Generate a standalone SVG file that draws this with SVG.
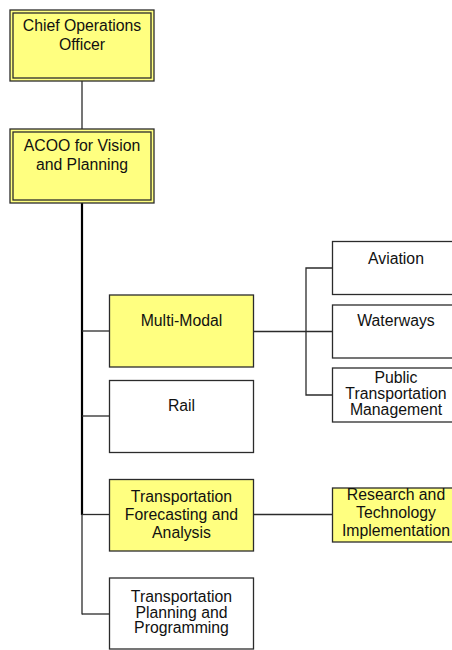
<svg xmlns="http://www.w3.org/2000/svg" width="452" height="650" viewBox="0 0 452 650">
  <style>
    .box { stroke: #2b2b2b; stroke-width: 1.3; }
    .hl { fill: #ffff80; }
    .plain { fill: #ffffff; }
    .inner { fill: none; stroke: #2b2b2b; stroke-width: 1.3; }
    .lbl { font-family: "Liberation Sans", Arial, sans-serif; font-size: 15.8px; fill: #111; text-anchor: middle; }
    .wire { stroke: #2b2b2b; stroke-width: 1.3; fill: none; }
    .trunk { stroke: #000; stroke-width: 2.2; fill: none; }
  </style>
  <rect width="452" height="650" fill="#ffffff"/>

  <g id="connectors">
    <line class="wire" x1="82" y1="81" x2="82" y2="129"/>
    <line class="trunk" x1="82" y1="203" x2="82" y2="515"/>
    <line class="wire" x1="82" y1="514" x2="82" y2="614.5"/>
    <line class="wire" x1="82" y1="331" x2="109.5" y2="331"/>
    <line class="wire" x1="82" y1="416" x2="109.5" y2="416"/>
    <line class="wire" x1="82" y1="514.5" x2="109.5" y2="514.5"/>
    <line class="wire" x1="82" y1="614" x2="109.5" y2="614"/>
    <line class="wire" x1="253.5" y1="331.5" x2="332.5" y2="331.5"/>
    <polyline class="wire" points="332.5,268 306,268 306,395 332.5,395"/>
    <line class="wire" x1="253.5" y1="514.5" x2="332.5" y2="514.5"/>
  </g>

  <g id="coo">
    <rect class="box hl" x="10" y="10" width="144" height="71"/>
    <rect class="inner" x="13" y="13" width="138" height="65"/>
    <text class="lbl" x="82" y="30.5">Chief Operations</text>
    <text class="lbl" x="82" y="49.5">Officer</text>
  </g>

  <g id="acoo">
    <rect class="box hl" x="10" y="129" width="144" height="74"/>
    <rect class="inner" x="13" y="132" width="138" height="68"/>
    <text class="lbl" x="82" y="150.5">ACOO for Vision</text>
    <text class="lbl" x="82" y="169.5">and Planning</text>
  </g>

  <g id="multi-modal">
    <rect class="box hl" x="109.5" y="295" width="144" height="72"/>
    <text class="lbl" x="181.5" y="326">Multi-Modal</text>
  </g>

  <g id="rail">
    <rect class="box plain" x="109.5" y="380.5" width="144" height="72"/>
    <text class="lbl" x="181.5" y="411">Rail</text>
  </g>

  <g id="forecasting">
    <rect class="box hl" x="109.5" y="479.5" width="144" height="71.5"/>
    <text class="lbl" x="181.5" y="501.7">Transportation</text>
    <text class="lbl" x="181.5" y="520">Forecasting and</text>
    <text class="lbl" x="181.5" y="538.3">Analysis</text>
  </g>

  <g id="planning-programming">
    <rect class="box plain" x="109.5" y="578" width="144" height="71"/>
    <text class="lbl" x="181.5" y="601.7">Transportation</text>
    <text class="lbl" x="181.5" y="617.7">Planning and</text>
    <text class="lbl" x="181.5" y="633.3">Programming</text>
  </g>

  <g id="aviation">
    <rect class="box plain" x="332.5" y="241.5" width="144" height="53"/>
    <text class="lbl" x="396" y="263.5">Aviation</text>
  </g>

  <g id="waterways">
    <rect class="box plain" x="332.5" y="305" width="144" height="53"/>
    <text class="lbl" x="396" y="326">Waterways</text>
  </g>

  <g id="public-transportation">
    <rect class="box plain" x="332.5" y="368" width="144" height="54"/>
    <text class="lbl" x="396" y="382.5">Public</text>
    <text class="lbl" x="396" y="398.5">Transportation</text>
    <text class="lbl" x="396" y="415">Management</text>
  </g>

  <g id="research">
    <rect class="box hl" x="332.5" y="488" width="144" height="54"/>
    <text class="lbl" x="396" y="499.5">Research and</text>
    <text class="lbl" x="396" y="518">Technology</text>
    <text class="lbl" x="396" y="535.5">Implementation</text>
  </g>
</svg>
